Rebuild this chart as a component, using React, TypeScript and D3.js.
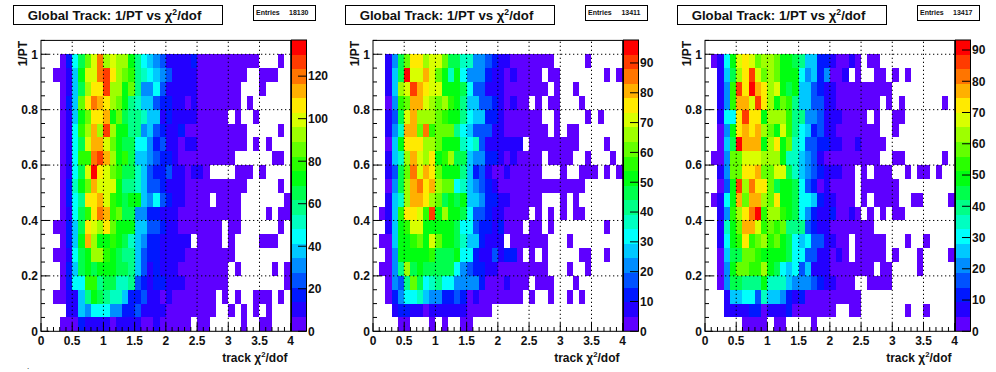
import React from "react";
import * as d3 from "d3";

const entriesList = ["18130", "13411", "13417"];
const zMaxList = [137, 97.7, 93.2];
const zTicksList = [
  [0, 20, 40, 60, 80, 100, 120],
  [0, 10, 20, 30, 40, 50, 60, 70, 80, 90],
  [0, 10, 20, 30, 40, 50, 60, 70, 80, 90],
];
const xTicks = [0, 0.5, 1, 1.5, 2, 2.5, 3, 3.5, 4];
const yTicks = [0, 0.2, 0.4, 0.6, 0.8, 1];

// counts per bin; rows from 1/PT = 0.95-1.0 down to 0-0.05, columns chi2/dof in 0.1 steps (trailing empties omitted)
const counts1 = [
  [0,0,0,3,17,45,65,86,99,120,93,99,93,93,72,58,45,38,31,24,10,10,10,10,17,3,3,3,3,3,3,3,3,3,3,0,0,0,3],
  [0,0,3,3,10,38,72,99,99,120,127,106,93,86,79,58,51,45,38,31,24,10,10,10,10,3,3,3,3,3,3,3,3,0,0,3,3,3],
  [0,0,0,3,10,38,65,93,106,106,127,93,93,72,86,58,31,31,45,24,10,10,10,10,10,3,3,3,3,3,3,3,0,0,0,3],
  [0,0,0,3,17,38,86,106,120,113,106,93,86,72,58,51,38,38,24,17,17,10,10,3,10,3,3,3,3,3,3,3,0,3],
  [0,0,0,3,10,38,72,86,106,106,113,72,86,65,58,58,51,38,38,10,17,10,10,10,10,3,3,3,3,3,0,3,0,0,3],
  [0,0,0,3,10,45,79,93,113,93,127,93,72,72,58,58,31,38,24,17,10,10,17,3,3,3,3,3,3,3,3,3,3,0,0,0,0,0,3],
  [0,0,0,3,10,45,65,99,113,113,99,86,72,65,65,45,45,31,17,24,10,10,3,10,10,3,3,3,3,3,3,3,3,0,3,0,3],
  [0,0,0,3,10,45,79,79,120,127,113,93,72,79,65,38,38,31,24,17,17,10,3,3,3,3,3,3,3,3,3,0,0,0,0,0,0,3,3],
  [0,0,0,3,10,45,65,99,134,106,99,86,79,65,65,51,38,24,17,17,24,10,10,3,10,10,3,0,0,0,0,3,3,3,0,3],
  [0,0,0,3,17,51,72,86,113,99,99,99,72,58,58,51,38,24,24,17,10,10,10,3,3,3,3,3,3,3,3,3,3,0,0,0,0,0,3],
  [0,0,0,3,17,45,58,106,106,113,99,79,72,65,72,72,38,31,45,24,17,10,10,3,3,3,3,0,3,3,3,3,0,0,0,0,0,0,0,3],
  [0,0,0,3,10,45,65,79,106,120,113,79,86,65,65,31,31,17,17,10,10,10,3,3,3,3,3,3,3,3,3,3,0,0,0,0,3,0,3,3],
  [0,0,3,3,17,38,65,106,99,93,106,86,72,72,72,38,38,24,24,17,10,10,3,3,3,3,3,3,3,0,3,3,0,0,0,0,0,0,3],
  [0,0,0,3,17,38,72,113,93,72,72,79,72,65,51,38,31,17,17,10,10,10,10,10,0,3,3,3,3,0,3,0,0,0,0,3,3,3],
  [0,0,3,3,10,45,65,72,93,93,79,72,65,58,58,38,24,17,17,10,10,10,10,3,3,3,3,3,3,3,3],
  [0,0,0,3,17,38,65,72,65,72,72,72,65,65,58,38,24,10,17,10,10,10,3,3,3,3,3,3,3,3,0,3,0,0,0,0,0,3,0,3],
  [0,0,0,3,17,45,45,79,79,58,65,65,51,51,58,24,17,10,17,17,10,10,10,3,3,3,3,3,3,3,0,0,0,0,0,0,0,0,0,3],
  [0,0,3,3,10,10,38,58,72,65,58,51,51,38,17,17,24,10,10,3,10,3,3,3,3,3,3,3,0,3,0,3,0,0,3,3,3,0,3],
  [0,0,0,0,10,10,38,31,45,45,45,31,31,17,17,24,10,10,10,10,3,3,3,3,3,3,3,3,0,0,3,0,3,0,3,0,3],
  [0,0,0,3,3,3,17,10,10,10,10,3,10,10,10,10,3,3,10,3,3,3,3,3,0,3,3,0,0,0,0,0,3,0,0,3,3],
];
const counts2 = [
  [0,0,7,22,46,61,76,76,66,71,71,61,46,46,37,37,22,22,17,12,7,7,2,2,2,2,2,2,2,0,0,0,0,0,2],
  [0,0,7,27,46,95,71,71,80,71,61,51,37,51,32,22,22,22,12,7,7,2,7,2,2,2,2,0,2,2,0,0,0,0,0,0,0,2,0,2],
  [0,0,7,27,66,71,90,80,76,71,71,51,51,51,46,32,17,17,7,7,7,2,2,2,2,2,2,2,0,2,0,0,2],
  [0,0,2,22,56,61,80,80,71,66,61,66,56,51,41,27,27,17,17,12,7,2,7,2,2,0,2,0,2,2,0,0,0,2],
  [0,0,7,17,46,71,80,66,66,66,61,56,51,51,41,32,27,27,12,12,7,2,2,2,2,2,2,0,0,2,0,0,0,0,2,0,2],
  [0,0,7,22,37,80,80,61,85,56,61,61,61,41,32,27,17,17,17,7,7,2,2,2,2,2,2,2,0,2,0,2,2],
  [0,0,2,27,51,76,76,76,66,66,61,51,51,51,37,32,37,17,7,7,7,7,7,7,0,2,2,2,2,2,2,2,2,0,0,0,0,2],
  [0,0,7,27,37,66,80,71,66,76,51,56,66,46,46,27,22,22,12,12,7,2,7,2,2,2,2,0,2,2,2,2,0,0,2,0,0,0,2],
  [0,0,7,17,46,61,85,71,80,76,61,51,51,51,41,27,12,17,7,2,2,7,2,2,2,2,2,0,0,0,2,0,0,2,2,2,0,2,0,2],
  [0,0,2,22,46,66,80,85,76,80,66,61,61,32,37,27,22,17,12,7,2,2,2,2,2,2,2,2,2,2,2,2,2,2],
  [0,0,7,27,37,66,80,80,76,66,61,46,51,46,51,27,27,22,12,12,7,7,2,2,2,2,2,0,0,0,2,0,2],
  [0,2,7,27,56,76,76,71,56,90,51,66,51,51,46,32,17,17,12,7,7,2,2,2,2,0,2,0,2,0,2,0,2,2],
  [0,0,7,27,51,56,71,71,51,51,51,51,51,46,32,32,17,12,12,7,12,2,2,2,0,2,2,0,2,0,0,0,0,0,0,0,0,2],
  [0,2,2,27,51,51,56,61,51,71,61,51,51,46,37,27,27,12,7,7,7,0,2,2,2,2,2,2,0,0,0,2],
  [0,0,2,22,51,51,51,51,51,56,46,46,46,51,32,32,12,7,7,17,7,12,12,2,0,2,0,2,0,0,0,0,0,2,2,0,0,2],
  [0,2,2,22,41,66,46,51,46,46,46,46,46,32,22,17,12,12,7,7,2,2,2,2,2,2,2,2,0,0,0,2,0,0,2],
  [0,0,2,22,17,41,61,46,32,37,41,32,32,22,22,22,22,12,2,2,2,7,2,2,2,0,2,2,2,0,0,0,2],
  [0,0,2,12,22,32,32,37,27,22,22,12,12,17,12,2,7,2,2,2,2,2,2,2,0,2,0,0,2,0,0,2,0,2],
  [0,0,0,7,12,12,7,7,2,7,7,7,7,7,7,2,2,2,2],
  [0,0,0,0,2,2,0,0,0,2,0,2,0,0,2,2],
];
const counts3 = [
  [0,2,7,30,49,68,72,68,58,63,63,58,49,49,44,40,26,26,12,12,7,2,2,7,2,0,2,2],
  [0,0,7,26,44,63,72,86,68,58,63,58,49,49,49,30,21,26,12,21,2,2,7,0,2,0,0,2,2,0,2,0,2],
  [0,0,7,21,54,86,72,91,77,72,63,68,49,44,49,26,26,16,12,7,7,2,2,2,2,2,2,2,2,2],
  [0,0,7,21,54,77,77,68,86,72,63,49,58,54,40,26,26,16,16,7,7,2,2,2,2,2,2,2,0,2,0,2,0,0,0,0,0,0,2],
  [0,0,7,30,30,72,86,72,72,49,63,63,63,54,40,40,21,21,16,7,7,7,2,2,2,2,0,2,0,0,2,2],
  [0,0,2,21,49,72,77,72,77,63,58,49,68,54,40,30,26,12,16,7,7,2,2,2,2,2,2,2,0,0,2],
  [0,0,2,26,44,91,77,77,77,49,63,72,49,58,35,30,16,16,12,12,7,7,2,2,7,2,2,2,2],
  [0,2,2,21,58,58,68,68,68,63,63,63,49,35,35,26,21,16,7,2,2,2,2,2,2,2,2,2,0,0,2,2,0,0,0,0,0,0,2],
  [0,0,7,21,58,58,72,72,77,58,58,68,68,44,35,26,21,16,12,7,7,7,2,2,0,2,0,2,2,2,0,0,2,0,2,2,0,2],
  [0,0,2,16,49,86,63,82,72,72,58,44,49,49,44,30,16,12,2,7,2,2,2,2,0,2,2,2,2,2,2],
  [0,2,7,30,49,77,58,77,77,63,58,72,49,49,44,30,30,26,12,7,7,2,2,2,0,2,0,2,2,2,2,0,0,2,2,0,0,0,0,2],
  [0,0,7,21,54,63,72,82,91,54,63,63,54,49,44,30,21,12,7,7,12,2,2,7,2,0,2,0,2,0,2,2],
  [0,0,7,35,49,58,77,77,68,54,58,54,58,40,40,40,16,12,7,7,2,2,2,2,2,2,2],
  [0,0,7,30,49,54,72,54,58,63,54,58,49,44,30,26,30,16,16,7,7,2,2,0,2,2,2,2,2,0,0,0,2,0,0,2],
  [0,0,2,26,44,44,58,58,54,49,49,49,49,44,30,30,16,16,7,7,2,7,2,0,2,2,2,2,2,0,2,0,0,0,2,0,0,0,0,2],
  [0,0,2,21,49,58,58,54,54,63,49,44,30,26,30,16,26,7,7,7,2,2,2,2,2,2,2,0,2,2,0,0,0,0,2],
  [0,0,2,21,44,44,40,40,40,49,35,35,35,26,21,21,21,16,12,7,7,2,2,2,0,0,2,2,2,2],
  [0,0,0,7,26,26,30,30,16,35,26,26,21,12,7,12,2,2,2,2,2,2,2,2,2],
  [0,0,0,7,7,7,7,12,12,2,7,7,7,12,2,2,2,2,2,2,2,0,0,2,2,0,0,0,0,0,0,0,2,0,0,2],
  [0,0,0,0,0,0,2,2,2,2,0,2,2,0,0,0,0,2],
];
const countsList = [counts1, counts2, counts3];

const LEVELS = 20;
const palette = d3.range(LEVELS).map((i) => d3.hsl(262 * (1 - i / (LEVELS - 1)), 1, 0.5).formatHex());
const FONT = "'Liberation Sans', Arial, sans-serif";
const INK = "#111";

const x = d3.scaleLinear().domain([0, 4]).range([41, 290.7]);
const y = d3.scaleLinear().domain([0, 1.05]).range([331.3, 40.4]);
const DX = 332;

function Chi({ size }: { size: number }) {
  return (
    <>
      <tspan fontStyle="normal">χ</tspan>
      <tspan dy={-size * 0.38} fontSize={size * 0.65}>2</tspan>
      <tspan dy={size * 0.38}>/dof</tspan>
    </>
  );
}

function Panel({ index }: { index: number }) {
  const rows = countsList[index];
  const zMax = zMaxList[index];
  const color = d3.scaleQuantize<string>().domain([0, zMax]).range(palette);
  const z = d3.scaleLinear().domain([0, zMax]).range([331.3, 40]);
  const levels = d3.range(LEVELS);
  const xMinor = d3.range(0, 4.001, 0.1);
  const yMinor = d3.range(0, 1.0501, 0.05);
  return (
    <g transform={`translate(${DX * index},0)`} fontFamily={FONT} fill={INK}>
      <rect x={13.5} y={5.5} width={209} height={19} fill="#fff" stroke="#000" strokeWidth={1} />
      <text x={114.5} y={20} textAnchor="middle" fontSize={13.2} fontWeight="bold">
        Global Track: 1/PT vs <Chi size={13.2} />
      </text>
      <rect x={253.5} y={5.5} width={62} height={15} fill="#fff" stroke="#000" strokeWidth={1} />
      <text x={256} y={15} fontSize={7} fontWeight="bold">Entries</text>
      <text x={308.5} y={15} fontSize={7} fontWeight="bold" textAnchor="end">{entriesList[index]}</text>

      <g shapeRendering="crispEdges">
        {rows.map((row, r) =>
          row.map((v, c) =>
            v > 0 ? (
              <rect
                key={`${r}-${c}`}
                x={x(c * 0.1)}
                y={y(1 - r * 0.05)}
                width={x((c + 1) * 0.1) - x(c * 0.1)}
                height={y(1 - (r + 1) * 0.05) - y(1 - r * 0.05)}
                fill={color(v)}
              />
            ) : null
          )
        )}
      </g>

      <g stroke="#000" strokeWidth={1} strokeDasharray="1.3 2.7" fill="none">
        {xTicks.slice(1, -1).map((t) => (
          <line key={t} x1={x(t)} x2={x(t)} y1={331} y2={40.4} />
        ))}
        {yTicks.slice(1).map((t) => (
          <line key={t} x1={41} x2={290.7} y1={y(t)} y2={y(t)} />
        ))}
      </g>

      <g stroke="#000" strokeWidth={1}>
        {xMinor.map((t, i) => (
          <line key={i} x1={x(t)} x2={x(t)} y1={331.3} y2={i % 5 === 0 ? 323 : 327} />
        ))}
        {yMinor.map((t, i) => (
          <line key={i} x1={41} x2={i % 4 === 0 ? 49 : 45} y1={y(t)} y2={y(t)} />
        ))}
      </g>
      <rect x={41} y={40.4} width={249.7} height={290.9} fill="none" stroke="#000" strokeWidth={1} />

      <g shapeRendering="crispEdges">
        {levels.map((l) => (
          <rect
            key={l}
            x={292}
            y={z(((l + 1) * zMax) / LEVELS)}
            width={14}
            height={z((l * zMax) / LEVELS) - z(((l + 1) * zMax) / LEVELS)}
            fill={palette[l]}
          />
        ))}
      </g>
      <rect x={291.5} y={40} width={15} height={291.3} fill="none" stroke="#000" strokeWidth={1} />
      {zTicksList[index].map((t) => (
        <g key={t}>
          <line x1={298} x2={306} y1={z(t)} y2={z(t)} stroke="#000" strokeWidth={1} />
          <text x={308} y={z(t)} dy="0.36em" fontSize={12} fontWeight="bold">{t}</text>
        </g>
      ))}

      {xTicks.map((t) => (
        <text key={t} x={x(t)} y={345} textAnchor="middle" fontSize={12} fontWeight="bold">{t}</text>
      ))}
      {yTicks.map((t) => (
        <text key={t} x={38} y={y(t)} dy="0.36em" textAnchor="end" fontSize={12} fontWeight="bold">{t}</text>
      ))}
      <text transform="translate(26.5,41) rotate(-90)" textAnchor="end" fontSize={12} fontWeight="bold">1/PT</text>
      <text x={287.5} y={362} textAnchor="end" fontSize={12} fontWeight="bold">
        track <Chi size={12} />
      </text>
    </g>
  );
}

export default function App() {
  return (
    <svg width={996} height={372} viewBox="0 0 996 372" style={{ position: "absolute", left: 0, top: 0, background: "#fff" }}>
      {countsList.map((_, i) => (
        <Panel key={i} index={i} />
      ))}
      <text x={27} y={369} fontSize={8} fontFamily={FONT}>.</text>
    </svg>
  );
}
